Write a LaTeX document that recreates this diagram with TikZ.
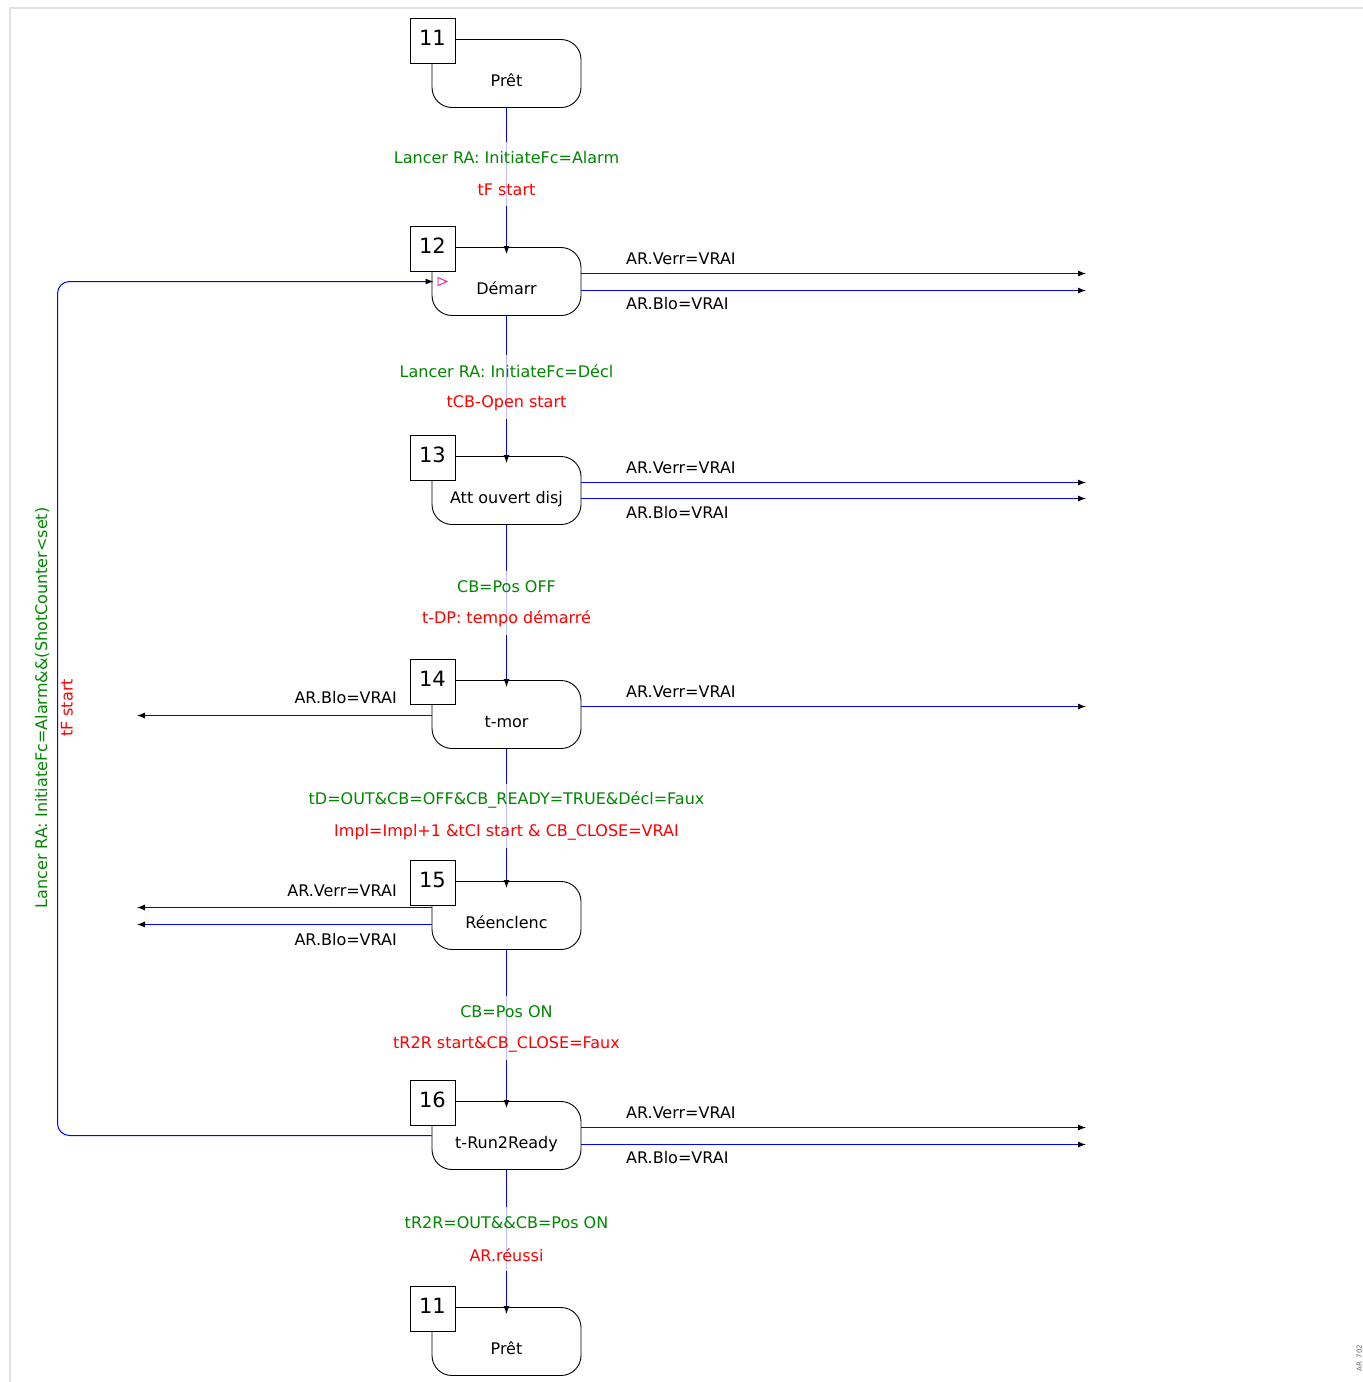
\documentclass[tikz,border=0pt]{standalone}
\usepackage{fontspec}
\setmainfont{DejaVu Sans}
\usepackage{xcolor}
\usepackage{tikz}
\usetikzlibrary{arrows.meta,positioning}
\definecolor{ARGreen} {RGB}{  0, 135,   0}
\definecolor{ARRed}   {RGB}{255,   0,   0}
\definecolor{ARBlue}  {RGB}{  0,   0, 255}
\definecolor{ARFrame} {RGB}{225, 225, 225}
\newcommand{\lblfont}{\fontsize{16}{18}\selectfont}
\newcommand{\numfont}{\fontsize{21}{21}\selectfont}
\tikzset{
  state/.style={draw, line width=0.9pt, rounded corners=20pt,
    minimum width=149pt, minimum height=68pt, inner sep=0pt,
    text height=25pt, text depth=0pt, font=\lblfont},
  stepno/.style={draw, line width=0.9pt, fill=white, minimum size=45pt,
    inner sep=0pt, text height=11pt, text depth=2pt, font=\numfont},
  cond/.style={text=ARGreen, fill=white, fill opacity=0.75, text opacity=1,
    minimum height=32pt, inner sep=1pt, font=\lblfont},
  act/.style={cond, text=ARRed},
  sig/.style={font=\lblfont, inner sep=0pt},
  flow/.style={ARBlue, line width=1pt, -{Latex[black,length=8pt,width=6pt]}}
}

\begin{document}
\begin{tikzpicture}[x=1pt, y=-1pt]
  \useasboundingbox (0,0) rectangle (1363,1382);
  % frame
  \draw[ARFrame, line width=2pt] (10,1382) -- (10,8) -- (1363,8);

  % states
  \node[state] (s11)  at (506.5,  73.5) {Prêt};
  \node[state] (s12)  at (506.5, 281.5) {Démarr};
  \node[state] (s13)  at (506.5, 490.5) {Att ouvert disj};
  \node[state] (s14)  at (506.5, 714.5) {t-mor};
  \node[state] (s15)  at (506.5, 915.5) {Réenclenc};
  \node[state] (s16)  at (506.5,1135.5) {t-Run2Ready};
  \node[state] (s11b) at (506.5,1341.5) {Prêt};

  % step numbers
  \node[stepno] (n11)  at (432.5,  40.5) {11};
  \node[stepno] (n12)  at (432.5, 248.5) {12};
  \node[stepno] (n13)  at (432.5, 457.5) {13};
  \node[stepno] (n14)  at (432.5, 681.5) {14};
  \node[stepno] (n15)  at (432.5, 882.5) {15};
  \node[stepno] (n16)  at (432.5,1102.5) {16};
  \node[stepno] (n11b) at (432.5,1308.5) {11};

  % transitions
  \draw[flow] (s11.south) -- ([yshift=-7pt]s12.north);
  \draw[flow] (s12.south) -- ([yshift=-7pt]s13.north);
  \draw[flow] (s13.south) -- ([yshift=-7pt]s14.north);
  \draw[flow] (s14.south) -- ([yshift=-7pt]s15.north);
  \draw[flow] (s15.south) -- ([yshift=-7pt]s16.north);
  \draw[flow] (s16.south) -- ([yshift=-7pt]s11b.north);

  \node[cond] (c1) at (506.5, 158) {Lancer RA: InitiateFc=Alarm};
  \node[act]  (a1) at (506.5, 190) {tF start};
  \node[cond] (c2) at (506.5, 371) {Lancer RA: InitiateFc=Décl};
  \node[act]  (a2) at (506.5, 403) {tCB-Open start};
  \node[cond] (c3) at (506.5, 587) {CB=Pos OFF};
  \node[act]  (a3) at (506.5, 619) {t-DP: tempo démarré};
  \node[cond] (c4) at (506.5, 800) {tD=OUT\&CB=OFF\&CB\_READY=TRUE\&Décl=Faux};
  \node[act]  (a4) at (506.5, 832) {Impl=Impl+1 \&tCI start \& CB\_CLOSE=VRAI};
  \node[cond] (c5) at (506.5,1012) {CB=Pos ON};
  \node[act]  (a5) at (506.5,1044) {tR2R start\&CB\_CLOSE=Faux};
  \node[cond] (c6) at (506.5,1223) {tR2R=OUT\&\&CB=Pos ON};
  \node[act]  (a6) at (506.5,1255) {AR.réussi};

  % outputs to the right
  \coordinate (r12a) at (1086, 273.5);
  \coordinate (r12b) at (1086, 290.5);
  \coordinate (r13a) at (1086, 482.5);
  \coordinate (r13b) at (1086, 498.5);
  \coordinate (r14a) at (1086, 706.5);
  \coordinate (r16a) at (1086,1127.5);
  \coordinate (r16b) at (1086,1144.5);
  \draw[flow] (s12.east |- r12a) -- (r12a);
  \draw[flow] (s12.east |- r12b) -- (r12b);
  \draw[flow] (s13.east |- r13a) -- (r13a);
  \draw[flow] (s13.east |- r13b) -- (r13b);
  \draw[flow] (s14.east |- r14a) -- (r14a);
  \draw[flow] (s16.east |- r16a) -- (r16a);
  \draw[flow] (s16.east |- r16b) -- (r16b);
  \node[sig, anchor=west] (v12) at (626, 259) {AR.Verr=VRAI};
  \node[sig, anchor=west] (b12) at (626, 304) {AR.Blo=VRAI};
  \node[sig, anchor=west] (v13) at (626, 468) {AR.Verr=VRAI};
  \node[sig, anchor=west] (b13) at (626, 513) {AR.Blo=VRAI};
  \node[sig, anchor=west] (v14) at (626, 692) {AR.Verr=VRAI};
  \node[sig, anchor=west] (v16) at (626,1113) {AR.Verr=VRAI};
  \node[sig, anchor=west] (b16) at (626,1158) {AR.Blo=VRAI};

  % outputs to the left
  \coordinate (l14a) at (137, 715.5);
  \coordinate (l15a) at (137, 907.5);
  \coordinate (l15b) at (137, 924.5);
  \draw[flow] (s14.west |- l14a) -- (l14a);
  \draw[flow] (s15.west |- l15a) -- (l15a);
  \draw[flow] (s15.west |- l15b) -- (l15b);
  \node[sig, anchor=east] (b14) at (397, 698) {AR.Blo=VRAI};
  \node[sig, anchor=east] (v15) at (397, 891) {AR.Verr=VRAI};
  \node[sig, anchor=east] (b15) at (397, 940) {AR.Blo=VRAI};

  % loop back 16 -> 12
  \coordinate (loopx) at (57.5, 0);
  \draw[flow, rounded corners=12pt]
    (s16.west) -- (s16.west -| loopx) -- (s12.west -| loopx) -- ([xshift=2pt]s12.west);
  \draw[magenta, line width=0.8pt] (438,277.5) -- (447,281.5) -- (438,285.5) -- cycle;
  \node[sig, rotate=90, text=ARGreen] (cl) at (42, 708)
    {Lancer RA: InitiateFc=Alarm\&\&(ShotCounter<set)};
  \node[sig, rotate=90, text=ARRed] (al) at (67, 708) {tF start};

  % figure tag
  \node[rotate=90, font=\fontsize{7}{7}\selectfont, text=black!60]
    (tag) at (1360, 1358) {AR\_702};
\end{tikzpicture}
\end{document}
